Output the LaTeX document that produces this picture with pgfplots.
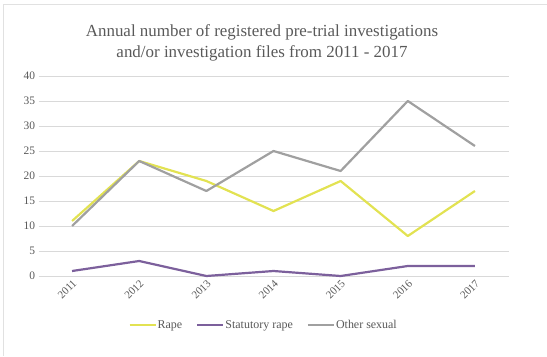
\documentclass[border=0pt]{standalone}
\usepackage{pgfplots}
\pgfplotsset{compat=1.18}
\usepackage{fontspec}
\setmainfont{Liberation Serif}
\definecolor{rapec}{RGB}{226,226,82}
\definecolor{statc}{RGB}{124,96,156}
\definecolor{otherc}{RGB}{160,160,160}
\definecolor{gridc}{RGB}{217,217,217}
\definecolor{textc}{RGB}{89,89,89}
\begin{document}
\begin{tikzpicture}[x=1bp,y=1bp]
\path[use as bounding box] (0,0) rectangle (547,356);
\draw[gridc!80,line width=0.8bp] (3,0) -- (3,352) -- (547,352);
\node[text=textc,align=center,font=\fontsize{17}{20.5}\selectfont] at (262,313) {Annual number of registered pre-trial investigations\\and/or investigation files from 2011 - 2017};
\begin{axis}[
  at={(38.5bp,80bp)}, anchor=south west,
  scale only axis, width=470bp, height=200bp,
  xmin=-0.5, xmax=6.5, ymin=0, ymax=40,
  xtick={0,...,6}, xticklabels={2011,2012,2013,2014,2015,2016,2017},
  ytick={0,5,...,40},
  x tick label style={rotate=45, anchor=north east, font=\fontsize{11}{12}\selectfont, text=textc, inner sep=2bp},
  y tick label style={font=\fontsize{11.5}{12}\selectfont, text=textc},
  /pgf/number format/assume math mode=true,
  axis line style={draw=none},
  tick style={draw=none},
  ymajorgrids, grid style={gridc, line width=0.8bp},
  legend style={at={(0.478,-0.245)}, anchor=center, draw=none, legend columns=3,
    font=\fontsize{12}{13}\selectfont, text=textc,
    /tikz/every even column/.append style={column sep=13bp},
    nodes={inner xsep=1bp}},
  legend image code/.code={\draw[#1, line width=2.2bp] (0bp,0bp) -- (26bp,0bp);},
  every axis plot/.append style={line width=2.2bp, line join=round},
  clip=false,
]
\addplot[rapec, no markers] coordinates {(0,11) (1,23) (2,19) (3,13) (4,19) (5,8) (6,17)};
\addlegendentry{Rape}
\addplot[statc, no markers] coordinates {(0,1) (1,3) (2,0) (3,1) (4,0) (5,2) (6,2)};
\addlegendentry{Statutory rape}
\addplot[otherc, no markers] coordinates {(0,10) (1,23) (2,17) (3,25) (4,21) (5,35) (6,26)};
\addlegendentry{Other sexual}
\end{axis}
\end{tikzpicture}
\end{document}
